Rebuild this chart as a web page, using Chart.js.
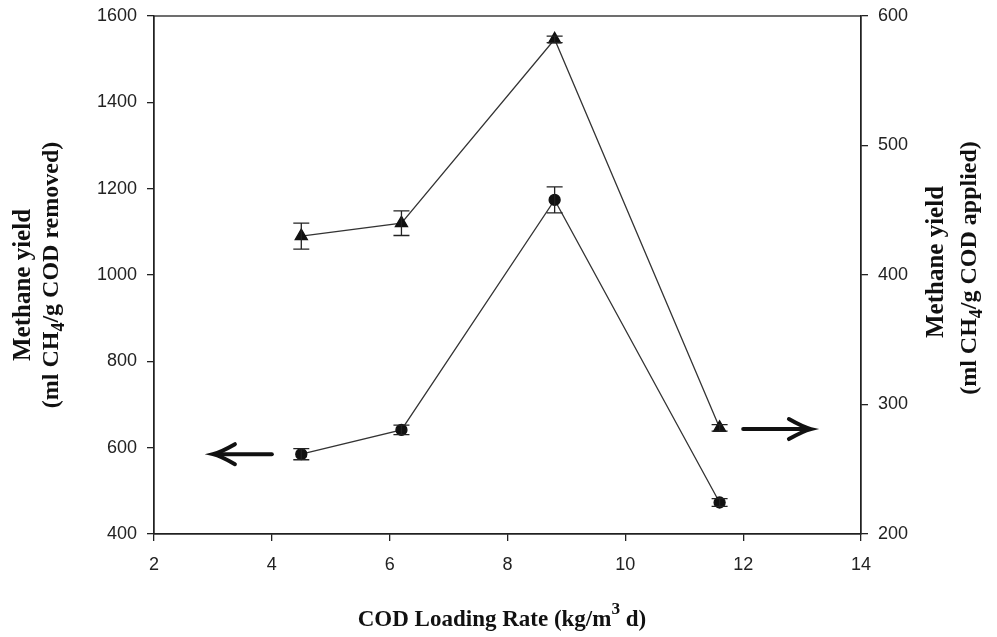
<!DOCTYPE html>
<html>
<head>
<meta charset="utf-8">
<script src="https://cdn.jsdelivr.net/npm/chart.js@4/dist/chart.umd.min.js"></script>
<style>
  html, body { margin: 0; padding: 0; background: #fff; }
</style>
</head>
<body>
<canvas id="grafico" width="997" height="637"></canvas>
<script>
// datos
const loadingRate = [4.5, 6.2, 8.8, 11.6];
const yieldRemoved = [585, 641, 1174, 473];      // eje izquierdo (circulos)
const errRemoved = [13, 11, 30, 9];
const yieldApplied = [430, 440, 582, 282];       // eje derecho (triangulos)
const errApplied = [10, 9.5, 2.5, 2.5];
const xTicks = [2, 4, 6, 8, 10, 12, 14];
const leftTicks = [400, 600, 800, 1000, 1200, 1400, 1600];
const rightTicks = [200, 300, 400, 500, 600];

const serif = '"Liberation Serif", "DejaVu Serif", serif';
const sans = '"Liberation Sans", Arial, sans-serif';

// texto con subindice / superindice
function drawRich(ctx, parts, size) {
    let total = 0;
    parts.forEach(p => {
        ctx.font = 'bold ' + (p.s ? size * 0.75 : size) + 'px ' + serif;
        p.w = ctx.measureText(p.t).width;
        total += p.w;
    });
    let x = -total / 2;
    parts.forEach(p => {
        ctx.font = 'bold ' + (p.s ? size * 0.75 : size) + 'px ' + serif;
        let dy = 0;
        if (p.s === 'sub') dy = size * 0.3;
        if (p.s === 'sup') dy = -size * 0.45;
        ctx.fillText(p.t, x, dy);
        x += p.w;
    });
}

const extras = {
    id: 'extras',
    afterDatasetsDraw(chart) {
        const ctx = chart.ctx;
        const xs = chart.scales.x, yl = chart.scales.y, yr = chart.scales.y2;
        const a = chart.chartArea;
        ctx.save();
        ctx.strokeStyle = '#222';
        ctx.lineWidth = 1.3;
        // marco
        ctx.strokeRect(a.left, a.top, a.right - a.left, a.bottom - a.top);

        // barras de error
        function err(xv, yv, e, scale, cap) {
            const px = xs.getPixelForValue(xv);
            const t = scale.getPixelForValue(yv + e);
            const b = scale.getPixelForValue(yv - e);
            ctx.beginPath();
            ctx.moveTo(px, t); ctx.lineTo(px, b);
            ctx.moveTo(px - cap, t); ctx.lineTo(px + cap, t);
            ctx.moveTo(px - cap, b); ctx.lineTo(px + cap, b);
            ctx.stroke();
        }
        loadingRate.forEach((xv, i) => {
            err(xv, yieldRemoved[i], errRemoved[i], yl, 8);
            err(xv, yieldApplied[i], errApplied[i], yr, 8);
        });

        // flechas
        function arrow(x1, x2, py) {
            const p1 = xs.getPixelForValue(x1), p2 = xs.getPixelForValue(x2);
            const dir = p2 > p1 ? 1 : -1;
            ctx.lineWidth = 4;
            ctx.strokeStyle = '#111';
            ctx.lineCap = 'round';
            ctx.beginPath();
            ctx.moveTo(p1, py); ctx.lineTo(p2 - dir * 4, py);
            ctx.stroke();
            ctx.beginPath();
            ctx.moveTo(p2 - dir * 22, py - 10);
            ctx.quadraticCurveTo(p2 - dir * 8, py - 2, p2, py);
            ctx.quadraticCurveTo(p2 - dir * 8, py + 2, p2 - dir * 22, py + 10);
            ctx.stroke();
        }
        arrow(4.0, 3.0, yl.getPixelForValue(585));
        arrow(12.0, 13.15, yr.getPixelForValue(281));
        ctx.restore();

        // titulos de ejes
        ctx.save();
        ctx.fillStyle = '#111';
        ctx.textBaseline = 'middle';
        ctx.textAlign = 'left';
        ctx.translate(502, 620);
        drawRich(ctx, [{t: 'COD Loading Rate (kg/m'}, {t: '3', s: 'sup'}, {t: ' d)'}], 23);
        ctx.restore();

        [[24, 285, 52, 275, 'removed'], [937, 262, 970, 268, 'applied']].forEach(([x1, y1, x2, y2, w]) => {
            ctx.save();
            ctx.fillStyle = '#111';
            ctx.textBaseline = 'middle';
            ctx.textAlign = 'left';
            ctx.save();
            ctx.translate(x1, y1);
            ctx.rotate(-Math.PI / 2);
            drawRich(ctx, [{t: 'Methane yield'}], 25);
            ctx.restore();
            ctx.translate(x2, y2);
            ctx.rotate(-Math.PI / 2);
            drawRich(ctx, [{t: '(ml CH'}, {t: '4', s: 'sub'}, {t: '/g COD ' + w + ')'}], 24);
            ctx.restore();
        });
    }
};

const ejeComun = {
    border: { display: true, color: '#222', width: 1.3 },
    grid: { display: true, drawOnChartArea: false, drawTicks: true, tickLength: 7, color: '#222', lineWidth: 1.3 },
};
const fuenteTicks = { family: sans, size: 18 };

new Chart(document.getElementById('grafico'), {
    type: 'line',
    data: {
        datasets: [{
            label: 'removed',
            data: loadingRate.map((x, i) => ({x: x, y: yieldRemoved[i]})),
            yAxisID: 'y',
            borderColor: '#333',
            borderWidth: 1.3,
            pointStyle: 'circle',
            pointRadius: 5.5,
            pointBackgroundColor: '#111',
            pointBorderColor: '#111',
            tension: 0
        }, {
            label: 'applied',
            data: loadingRate.map((x, i) => ({x: x, y: yieldApplied[i]})),
            yAxisID: 'y2',
            borderColor: '#333',
            borderWidth: 1.3,
            pointStyle: 'triangle',
            pointRadius: 7,
            pointBackgroundColor: '#111',
            pointBorderColor: '#111',
            tension: 0
        }]
    },
    options: {
        responsive: false,
        animation: false,
        layout: { padding: { top: 16, left: 0, right: 0, bottom: 0 } },
        plugins: { legend: { display: false }, tooltip: { enabled: false } },
        scales: {
            x: {
                type: 'linear', min: 2, max: 14,
                ...ejeComun,
                afterBuildTicks: s => { s.ticks = xTicks.map(v => ({value: v})); },
                ticks: { color: '#222', font: fuenteTicks, padding: 13, callback: v => String(v) },
                afterFit: s => { s.height = 103; }
            },
            y: {
                type: 'linear', position: 'left', min: 400, max: 1600,
                ...ejeComun,
                afterBuildTicks: s => { s.ticks = leftTicks.map(v => ({value: v})); },
                ticks: { color: '#222', font: fuenteTicks, padding: 10, callback: v => String(v) },
                afterFit: s => { s.width = 154; s.paddingTop = 0; s.paddingBottom = 0; }
            },
            y2: {
                type: 'linear', position: 'right', min: 200, max: 600,
                ...ejeComun,
                afterBuildTicks: s => { s.ticks = rightTicks.map(v => ({value: v})); },
                ticks: { color: '#222', font: fuenteTicks, padding: 10, callback: v => String(v) },
                afterFit: s => { s.width = 136; s.paddingTop = 0; s.paddingBottom = 0; }
            }
        }
    },
    plugins: [extras]
});
</script>
</body>
</html>
